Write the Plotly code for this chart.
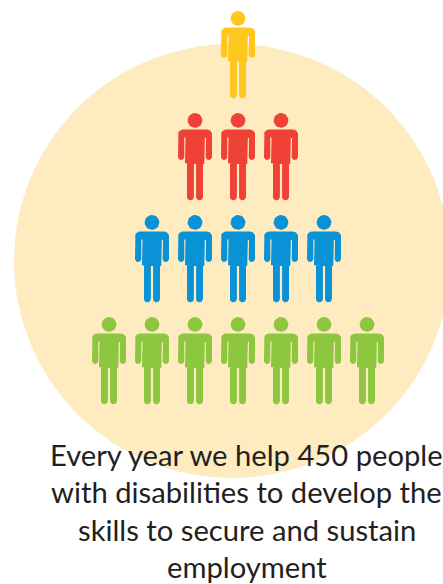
import math
import plotly.graph_objects as go

# Pyramid of people: how many figures stand in each row, top to bottom
row_names = ["Top", "Second", "Third", "Base"]
people_per_row = [1, 3, 5, 7]
row_colors = ["#FFC61E", "#EF4136", "#0A92D6", "#8DC63F"]
caption_lines = [
    "Every year we help 450 people",
    "with disabilities to develop the",
    "skills to secure and sustain",
    "employment",
]

WIDTH, HEIGHT = 443, 584
CENTER_X = 238
FIRST_ROW_Y = 0
ROW_STEP = 102
COL_STEP = 43


def rounded_rect(x0, x1, y0, y1, r):
    """Closed outline of a rounded rectangle, all in one winding direction."""
    pts = []
    corners = [
        (x1 - r, y0 + r, -90),
        (x1 - r, y1 - r, 0),
        (x0 + r, y1 - r, 90),
        (x0 + r, y0 + r, 180),
    ]
    for cx, cy, start in corners:
        for k in range(7):
            a = math.radians(start + k * 15)
            pts.append((cx + r * math.cos(a), cy + r * math.sin(a)))
    pts.append(pts[0])
    return pts


def person_parts(ox, oy):
    """Figure outline pieces around horizontal centre ox, with top offset oy."""
    pieces = [
        rounded_rect(-7.4, 7.4, 11.0, 25.8, 7.4),      # head
        rounded_rect(-17, 17, 27.5, 36, 5),            # shoulders
        rounded_rect(-17, -10.7, 29, 58, 3),           # left arm
        rounded_rect(10.7, 17, 29, 58, 3),             # right arm
        rounded_rect(-10, 10, 27.5, 62, 1),            # torso
        rounded_rect(-8, -1.1, 58, 98.3, 3.2),         # left leg
        rounded_rect(1.1, 8, 58, 98.3, 3.2),           # right leg
    ]
    xs, ys = [], []
    for piece in pieces:
        xs += [ox + p[0] for p in piece] + [None]
        ys += [oy + p[1] for p in piece] + [None]
    return xs, ys


fig = go.Figure()

# Pale backdrop disc behind the figures
fig.add_shape(
    type="circle", layer="below",
    x0=14, x1=450, y0=44, y1=478,
    fillcolor="#FEEBC0", line_width=0,
)

for i, (name, count, color) in enumerate(zip(row_names, people_per_row, row_colors)):
    xs, ys = [], []
    for c in range(count):
        ox = CENTER_X + (c - (count - 1) / 2) * COL_STEP
        px, py = person_parts(ox, FIRST_ROW_Y + i * ROW_STEP)
        xs += px
        ys += py
    fig.add_trace(go.Scatter(
        x=xs, y=ys, mode="lines", name=name,
        fill="toself", fillcolor=color,
        line=dict(width=0, color=color),
        hoverinfo="skip", showlegend=False,
    ))

for i, line in enumerate(caption_lines):
    fig.add_annotation(
        x=246.5, y=454 + i * 37.5, text=line,
        showarrow=False, xanchor="center", yanchor="middle",
        font=dict(family="Lato", size=29.2, color="#231F20"),
    )

fig.update_layout(
    width=WIDTH, height=HEIGHT,
    margin=dict(l=0, r=0, t=0, b=0),
    paper_bgcolor="white", plot_bgcolor="white",
    xaxis=dict(range=[0, WIDTH], visible=False, fixedrange=True),
    yaxis=dict(range=[HEIGHT, 0], visible=False, fixedrange=True),
)

fig.write_html("out.html", config={"displayModeBar": False})
